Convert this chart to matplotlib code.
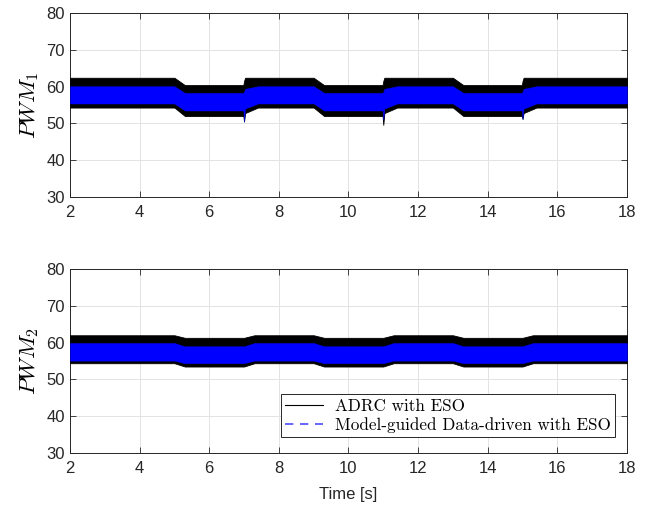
import numpy as np
import matplotlib
matplotlib.use('Agg')
import matplotlib.pyplot as plt
from matplotlib.lines import Line2D

plt.rcParams['mathtext.fontset'] = 'cm'
plt.rcParams['font.family'] = 'Liberation Sans'

# Envelopes of the two noisy signals
# PWM_1 (top panel)
t1 = [2.0, 5.0, 5.3, 6.98, 7.0, 7.03, 7.4, 9.0, 9.3, 10.98, 11.0, 11.03, 11.4,
      13.0, 13.3, 14.98, 15.0, 15.03, 15.4, 18.0]
adrc_hi1 = [62.4, 62.4, 60.4, 60.4, 61.5, 62.4, 62.4, 62.4, 60.4, 60.4, 61.5, 62.4, 62.4,
            62.4, 60.4, 60.4, 61.5, 62.4, 62.4, 62.4]
adrc_lo1 = [54.3, 54.3, 52.0, 52.0, 50.5, 52.8, 54.3, 54.3, 52.0, 52.0, 49.6, 52.8, 54.3,
            54.3, 52.0, 52.0, 51.2, 52.8, 54.3, 54.3]
mgdd_hi1 = [60.1, 60.1, 58.3, 58.3, 58.6, 59.4, 60.1, 60.1, 58.3, 58.3, 58.6, 59.4, 60.1,
            60.1, 58.3, 58.3, 58.6, 59.4, 60.1, 60.1]
mgdd_lo1 = [55.4, 55.4, 53.5, 53.5, 50.5, 54.0, 55.4, 55.4, 53.5, 53.5, 51.0, 54.0, 55.4,
            55.4, 53.5, 53.5, 51.2, 54.0, 55.4, 55.4]

# PWM_2 (bottom panel)
t2 = [2.0, 5.0, 5.3, 7.0, 7.3, 9.0, 9.3, 11.0, 11.3, 13.0, 13.3, 15.0, 15.3, 18.0]
adrc_hi2 = [62.0, 62.0, 61.3, 61.3, 62.0, 62.0, 61.3, 61.3, 62.0, 62.0, 61.3, 61.3, 62.0, 62.0]
adrc_lo2 = [54.4, 54.4, 53.5, 53.5, 54.4, 54.4, 53.5, 53.5, 54.4, 54.4, 53.5, 53.5, 54.4, 54.4]
mgdd_hi2 = [59.9, 59.9, 59.0, 59.0, 59.9, 59.9, 59.0, 59.0, 59.9, 59.9, 59.0, 59.0, 59.9, 59.9]
mgdd_lo2 = [55.1, 55.1, 54.4, 54.4, 55.1, 55.1, 54.4, 54.4, 55.1, 55.1, 54.4, 54.4, 55.1, 55.1]

labels = ['ADRC with ESO', 'Model-guided Data-driven with ESO']
ylabels = [r'$PWM_1$', r'$PWM_2$']
xticks = [2, 4, 6, 8, 10, 12, 14, 16, 18]
yticks = [30, 40, 50, 60, 70, 80]

fig = plt.figure(figsize=(6.51, 5.09), dpi=100)
ax1 = fig.add_axes([0.1075, 0.613, 0.8556, 0.3615])
ax2 = fig.add_axes([0.1075, 0.110, 0.8556, 0.3615])

panels = [(ax1, t1, adrc_hi1, adrc_lo1, mgdd_hi1, mgdd_lo1),
          (ax2, t2, adrc_hi2, adrc_lo2, mgdd_hi2, mgdd_lo2)]

for i, (ax, t, ahi, alo, mhi, mlo) in enumerate(panels):
    ax.fill_between(t, alo, ahi, color='black', linewidth=0.6, edgecolor='black', zorder=3)
    ax.fill_between(t, mlo, mhi, color='#0000ff', linewidth=0.3, edgecolor='#0000ff', zorder=4)
    ax.set_xlim(2, 18)
    ax.set_ylim(30, 80)
    ax.set_xticks(xticks)
    ax.set_yticks(yticks)
    ax.grid(True, color='#e3e3e3', linewidth=0.7)
    ax.set_axisbelow(True)
    ax.tick_params(direction='in', top=True, right=True, length=4, width=0.6,
                   labelsize=12, colors='#262626')
    ax.tick_params(axis='x', pad=6)
    for s in ax.spines.values():
        s.set_color('#262626')
        s.set_linewidth(0.7)
    ax.set_ylabel(ylabels[i], fontsize=16.5, labelpad=4)

ax2.set_xlabel('Time [s]', fontsize=12, color='#262626', labelpad=8)

handles = [Line2D([], [], color='black', linewidth=0.8),
           Line2D([], [], color='#4d4dff', linewidth=1.2, linestyle=(0, (5, 4)))]
leg = ax2.legend(handles, labels, loc='lower right', bbox_to_anchor=(0.978, 0.087),
                 borderaxespad=0, fancybox=False, framealpha=1, edgecolor='#262626',
                 prop={'family': 'cmr10', 'size': 12.3}, handlelength=2.2,
                 labelspacing=0.2, borderpad=0.25, handletextpad=0.7)
leg.get_frame().set_linewidth(0.7)

fig.savefig('out.png', dpi=100)
